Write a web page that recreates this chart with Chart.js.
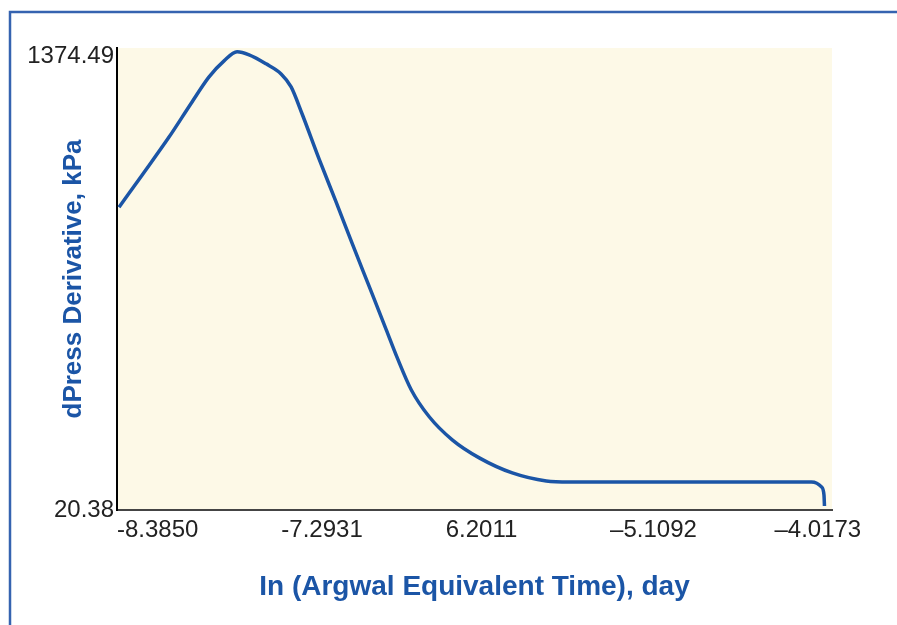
<!DOCTYPE html>
<html>
<head>
<meta charset="utf-8">
<script src="https://cdn.jsdelivr.net/npm/chart.js@4/dist/chart.umd.min.js"></script>
<style>
  body { margin: 0; background: #fff; }
  #wrap { width: 897px; height: 625px; position: relative; }
</style>
</head>
<body>
<div id="wrap"><canvas id="derivChart"></canvas></div>
<script>
// ln(equivalent time) vs pressure derivative
const xVals = [-8.3717, -8.2188, -8.0393, -7.8864, -7.7734, -7.6737, -7.5872, -7.5075,
               -7.3945, -7.2947, -7.2283, -7.1551, -7.0421, -6.9291, -6.8228, -6.7097,
               -6.5967, -6.5236, -6.4305, -6.3108, -6.1579, -5.9784, -5.7590, -5.5330,
               -5.3801, -4.5159, -3.7712, -3.7048, -3.6883, -3.6850];
const yVals = [925.2, 1021.0, 1134.9, 1239.8, 1314.7, 1362.6, 1389.6, 1380.6,
               1353.6, 1323.6, 1284.7, 1203.8, 1069.0, 940.2, 817.3, 688.5,
               559.7, 475.8, 379.9, 299.0, 230.1, 176.2, 131.2, 107.3,
               104.3, 104.3, 104.3, 89.3, 65.3, 32.4];

const xTickValues = [-8.3850, -7.2931, -6.2011, -5.1092, -4.0173];
const xTickLabels = ['-8.3850', '-7.2931', '6.2011', '\u20135.1092', '\u20134.0173'];
const yTickValues = [20.38, 1374.49];
const yTickLabels = ['20.38', '1374.49'];

const FONT = '"Liberation Sans", Arial, Helvetica, sans-serif';
const BLUE = '#1b55a6';

const points = xVals.map((x, i) => ({ x: x, y: yVals[i] }));

// cream plot area + the blue frame round the figure
const backdrop = {
    id: 'backdrop',
    beforeDraw(chart) {
        const { ctx, chartArea: a } = chart;
        ctx.save();
        ctx.fillStyle = '#ffffff';
        ctx.fillRect(0, 0, chart.width, chart.height);
        ctx.fillStyle = '#fdf9e7';
        ctx.fillRect(a.left, a.top, a.right - a.left, a.bottom - a.top);
        ctx.strokeStyle = '#3563b0';
        ctx.lineWidth = 2.5;
        ctx.beginPath();
        ctx.moveTo(10, chart.height);
        ctx.lineTo(10, 12);
        ctx.lineTo(chart.width, 12);
        ctx.stroke();
        ctx.restore();
    }
};

const ctx = document.getElementById('derivChart').getContext('2d');

let derivChart = new Chart(ctx, {
    type: 'line',
    data: {
        datasets: [{
            label: 'dPress Derivative',
            data: points,
            borderColor: BLUE,
            borderWidth: 3.5,
            pointRadius: 0,
            cubicInterpolationMode: 'monotone',
            fill: false
        }]
    },
    options: {
        responsive: true,
        maintainAspectRatio: false,
        animation: false,
        layout: { padding: { left: 0, top: 48, right: 65, bottom: 0 } },
        plugins: {
            legend: { display: false },
            tooltip: { enabled: false }
        },
        scales: {
            x: {
                type: 'linear',
                min: -8.385,
                max: -3.635,
                afterBuildTicks: (scale) => { scale.ticks = xTickValues.map(v => ({ value: v })); },
                afterFit: (scale) => { scale.height = 115; },
                grid: { drawOnChartArea: false, drawTicks: false },
                border: { display: true, color: '#444444', width: 2 },
                ticks: {
                    align: 'start',
                    padding: 6,
                    maxRotation: 0,
                    autoSkip: false,
                    color: '#222222',
                    font: { family: FONT, size: 24 },
                    callback: (val, i) => xTickLabels[i]
                },
                title: {
                    display: true,
                    text: 'In (Argwal Equivalent Time), day',
                    color: BLUE,
                    font: { family: FONT, size: 28, weight: 'bold' },
                    padding: { top: 0, bottom: 21 }
                }
            },
            y: {
                type: 'linear',
                min: 20.38,
                max: 1401,
                afterBuildTicks: (scale) => { scale.ticks = yTickValues.map(v => ({ value: v })); },
                afterFit: (scale) => { scale.width = 117; },
                grid: { drawOnChartArea: false, drawTicks: false },
                border: { display: true, color: '#000000', width: 2 },
                ticks: {
                    padding: 3,
                    autoSkip: false,
                    color: '#222222',
                    font: { family: FONT, size: 24 },
                    callback: (val, i) => yTickLabels[i]
                },
                title: {
                    display: true,
                    text: 'dPress Derivative, kPa',
                    color: BLUE,
                    font: { family: FONT, size: 26, weight: 'bold' },
                    padding: { top: 58, bottom: 0 }
                }
            }
        }
    },
    plugins: [backdrop]
});
</script>
</body>
</html>
